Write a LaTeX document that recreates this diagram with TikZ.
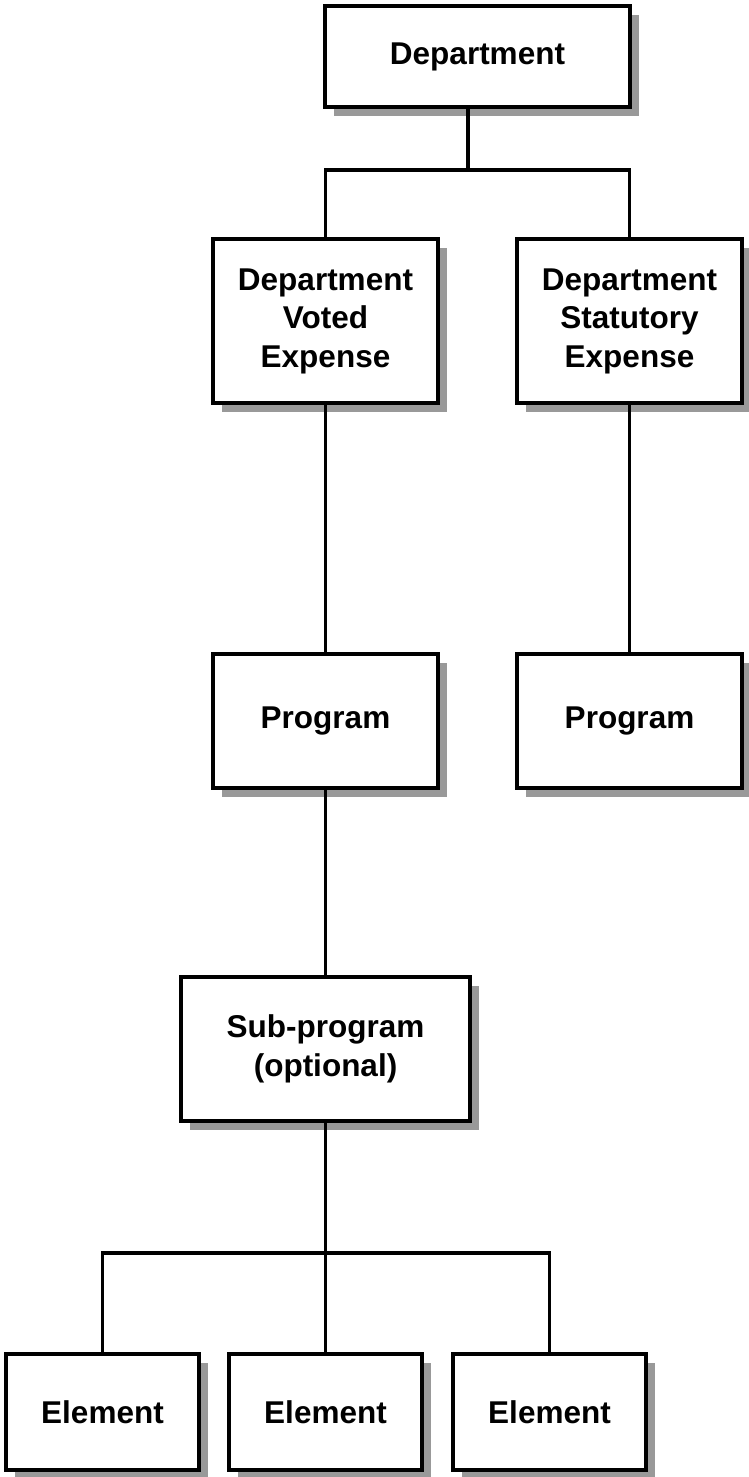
\documentclass[tikz,border=0pt]{standalone}
\usepackage{fontspec}
\setmainfont{Liberation Sans}
\usetikzlibrary{shadows}
\begin{document}
\begin{tikzpicture}[x=1pt,y=1pt,
  box/.style={draw=black, line width=4pt, fill=white, rectangle, align=center,
    inner sep=0pt, outer sep=0pt,
    font=\fontsize{31.5}{38.5}\selectfont\bfseries,
    drop shadow={shadow xshift=9pt, shadow yshift=-9pt, fill=black!40, opacity=1}},
  conn/.style={line width=3.6pt, line cap=rect}]
\useasboundingbox (0,0) rectangle (749,-1477);
\node[box, minimum width=305pt, minimum height=101pt] (dept) at (477.5,-56.5) {Department};
\node[box, minimum width=225pt, minimum height=164pt] (voted) at (325.5,-321) {Department\\Voted\\Expense};
\node[box, minimum width=225pt, minimum height=164pt] (stat) at (629.5,-321) {Department\\Statutory\\Expense};
\node[box, minimum width=225pt, minimum height=134pt] (prog1) at (325.5,-721) {Program};
\node[box, minimum width=225pt, minimum height=134pt] (prog2) at (629.5,-721) {Program};
\node[box, minimum width=289pt, minimum height=144pt] (sub) at (325.5,-1049) {Sub-program\\(optional)};
\node[box, minimum width=193pt, minimum height=116pt] (el1) at (102.5,-1412) {Element};
\node[box, minimum width=193pt, minimum height=116pt] (el2) at (325.5,-1412) {Element};
\node[box, minimum width=193pt, minimum height=116pt] (el3) at (549.5,-1412) {Element};
\coordinate (j1) at (468,-170);
\coordinate (j2) at (325.5,-1253);
\draw[conn] (dept.south -| j1) -- (j1);
\draw[conn] (voted.north) -- (voted.north |- j1) -- (stat.north |- j1) -- (stat.north);
\draw[conn] (voted.south) -- (prog1.north);
\draw[conn] (stat.south) -- (prog2.north);
\draw[conn] (prog1.south) -- (sub.north);
\draw[conn] (sub.south) -- (j2);
\draw[conn] (el1.north) -- (el1.north |- j2) -- (el3.north |- j2) -- (el3.north);
\draw[conn] (el2.north) -- (el2.north |- j2);
\end{tikzpicture}
\end{document}
